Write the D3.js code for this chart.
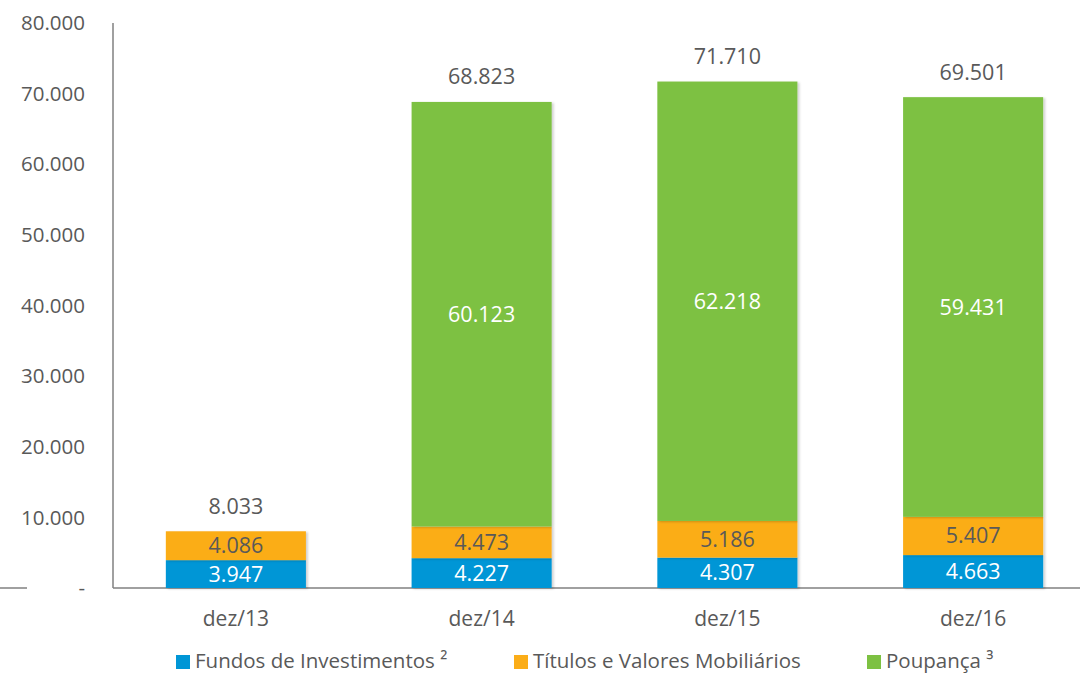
<!DOCTYPE html>
<html>
<head>
<meta charset="utf-8">
<script src="https://cdn.jsdelivr.net/npm/d3@7"></script>
<style>
  body { margin: 0; background: #fff; }
  svg { font-family: "Open Sans", sans-serif; }
</style>
</head>
<body>
<div id="chart"></div>
<script>
// Data
const categories = ['dez/13', 'dez/14', 'dez/15', 'dez/16'];
const fundos = [3947, 4227, 4307, 4663];
const titulos = [4086, 4473, 5186, 5407];
const poupanca = [0, 60123, 62218, 59431];
const totals = [8033, 68823, 71710, 69501];
const yTicks = [0, 10000, 20000, 30000, 40000, 50000, 60000, 70000, 80000];
const seriesNames = ['Fundos de Investimentos ²', 'Títulos e Valores Mobiliários', 'Poupança ³'];
const colors = ['#0096d6', '#fbad18', '#7dc142'];
const labelColors = ['#ffffff', '#595959', '#ffffff'];

const W = 1080, H = 674;
const left = 113, baseY = 588, topY = 23;

const svg = d3.select('#chart').append('svg')
    .attr('width', W).attr('height', H);

const defs = svg.append('defs');
const f = defs.append('filter').attr('id', 'shadow')
    .attr('x', '-5%').attr('y', '-5%').attr('width', '115%').attr('height', '115%');
f.append('feDropShadow').attr('dx', 2).attr('dy', 1).attr('stdDeviation', 1.2)
    .attr('flood-color', '#000').attr('flood-opacity', 0.18);

const x = d3.scaleBand().domain(categories).range([left, 1096])
    .paddingInner(0.43).paddingOuter(0.215);
const y = d3.scaleLinear().domain([0, 80000]).range([baseY, topY]);

const fmt = v => v === 0 ? '-' : d3.format(',')(v).replace(/,/g, '.');

// Y axis tick labels
svg.append('g').selectAll('text')
    .data(yTicks)
    .enter().append('text')
    .attr('x', 85)
    .attr('y', d => y(d))
    .attr('dy', '0.35em')
    .attr('text-anchor', 'end')
    .attr('fill', '#595959')
    .style('font-size', '20.5px')
    .text(fmt);

// Axis lines
svg.append('line').attr('x1', left).attr('x2', left).attr('y1', topY).attr('y2', baseY)
    .attr('stroke', '#808080').attr('stroke-width', 1.5);
svg.append('line').attr('x1', left).attr('x2', W).attr('y1', baseY).attr('y2', baseY)
    .attr('stroke', '#808080').attr('stroke-width', 1.5);
svg.append('line').attr('x1', 0).attr('x2', 27).attr('y1', baseY).attr('y2', baseY)
    .attr('stroke', '#808080').attr('stroke-width', 1.5);

// Stack
const rows = categories.map((c, i) => ({ cat: c, s0: fundos[i], s1: titulos[i], s2: poupanca[i] }));
const stack = d3.stack().keys(['s0', 's1', 's2'])(rows);

const layers = svg.append('g').selectAll('g')
    .data(stack)
    .enter().append('g')
    .attr('fill', (d, i) => colors[i]);

layers.selectAll('rect')
    .data(d => d.filter(p => p[1] > p[0]))
    .enter().append('rect')
    .attr('x', d => x(d.data.cat))
    .attr('width', x.bandwidth())
    .attr('y', d => y(d[1]))
    .attr('height', d => y(d[0]) - y(d[1]))
    .attr('filter', 'url(#shadow)');

// Segment labels
stack.forEach((layer, i) => {
    svg.append('g').selectAll('text')
        .data(layer.filter(p => p[1] > p[0]))
        .enter().append('text')
        .attr('x', d => x(d.data.cat) + x.bandwidth() / 2)
        .attr('y', d => (y(d[0]) + y(d[1])) / 2)
        .attr('dy', '0.35em')
        .attr('text-anchor', 'middle')
        .attr('fill', labelColors[i])
        .style('font-size', '21.5px')
        .text(d => fmt(d[1] - d[0]));
});

// Totals
svg.append('g').selectAll('text')
    .data(categories)
    .enter().append('text')
    .attr('x', d => x(d) + x.bandwidth() / 2)
    .attr('y', (d, i) => y(totals[i]) - 25)
    .attr('dy', '0.35em')
    .attr('text-anchor', 'middle')
    .attr('fill', '#595959')
    .style('font-size', '21.5px')
    .text((d, i) => fmt(totals[i]));

// X labels
svg.append('g').selectAll('text')
    .data(categories)
    .enter().append('text')
    .attr('x', d => x(d) + x.bandwidth() / 2)
    .attr('y', 619)
    .attr('dy', '0.35em')
    .attr('text-anchor', 'middle')
    .attr('fill', '#595959')
    .style('font-size', '21px')
    .text(d => d);

// Legend
const legendX = [176, 514, 867];
const legend = svg.append('g').selectAll('g')
    .data(seriesNames)
    .enter().append('g')
    .attr('transform', (d, i) => `translate(${legendX[i]},661)`);
legend.append('rect').attr('x', 0).attr('y', -6).attr('width', 14).attr('height', 14)
    .attr('fill', (d, i) => colors[i]);
legend.append('text').attr('x', 19).attr('y', 0).attr('dy', '0.35em')
    .attr('fill', '#595959').style('font-size', '20.5px')
    .text(d => d);
</script>
</body>
</html>
